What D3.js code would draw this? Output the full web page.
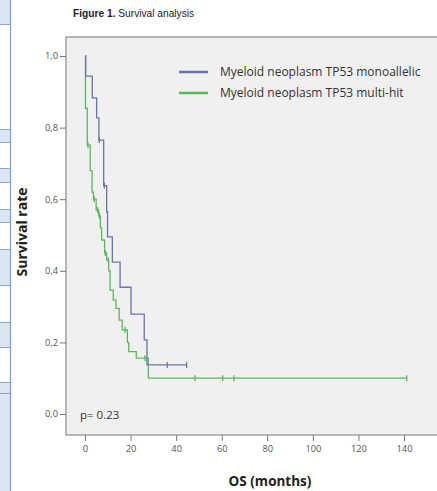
<!DOCTYPE html>
<html><head><meta charset="utf-8">
<script src="https://cdn.jsdelivr.net/npm/d3@7"></script>
<style>body{margin:0;background:#fff}svg{display:block}</style>
</head><body>
<script>
// ---- data ----
const seriesNames = ["Myeloid neoplasm TP53 monoallelic", "Myeloid neoplasm TP53 multi-hit"];
const seriesColors = ["#6a74ac", "#5cb85a"];
// step points: [months, survival after step]
const monoSteps = [[0,1.0],[0.3,0.944],[3.2,0.883],[5.1,0.827],[6.1,0.765],[8.2,0.638],[9.5,0.565],[9.9,0.495],[12.0,0.424],[15.4,0.354],[20.2,0.279],[26.0,0.207],[27.2,0.137],[44.6,0.137]];
const monoCensor = [[6.3,0.765],[8.5,0.638],[36.1,0.137],[44.6,0.137]];
const multiSteps = [[0,1.0],[0.2,0.854],[1.0,0.751],[2.3,0.680],[3.1,0.620],[3.7,0.600],[4.9,0.570],[6.0,0.553],[6.7,0.520],[7.3,0.486],[8.6,0.450],[9.5,0.430],[10.4,0.400],[11.0,0.346],[12.4,0.318],[13.6,0.295],[15.0,0.262],[16.3,0.235],[18.6,0.200],[19.2,0.174],[22.5,0.156],[27.8,0.100],[141.2,0.100]];
const multiCensor = [[1.3,0.751],[4.0,0.600],[5.5,0.570],[6.4,0.553],[8.9,0.450],[10.2,0.430],[17.6,0.235],[26.3,0.156],[48.3,0.100],[60.4,0.100],[65.4,0.100],[141.2,0.100]];
const xTicks = [0,20,40,60,80,100,120,140];
const yTicks = [0,0.2,0.4,0.6,0.8,1.0];
const pText = "p= 0.23";

const W = 437, H = 491;
const svg = d3.select("body").append("svg").attr("width", W).attr("height", H);

// left strip (cropped table fragment)
const stripBands = [[0,24],[129,142],[168,182],[209,222],[249,285],[322,347],[382,491]];
svg.append("rect").attr("x",0).attr("y",0).attr("width",10).attr("height",H).attr("fill","#ffffff");
stripBands.forEach(b => svg.append("rect").attr("x",0).attr("y",b[0]).attr("width",10).attr("height",b[1]-b[0]).attr("fill","#dbe5f3"));
[24,129,142,168,182,209,222,249,285,322,347,382,393].forEach(y =>
  svg.append("line").attr("x1",0).attr("x2",10).attr("y1",y+0.5).attr("y2",y+0.5).attr("stroke","#8aa3cf").attr("stroke-width",1));
svg.append("line").attr("x1",10.5).attr("x2",10.5).attr("y1",0).attr("y2",H).attr("stroke","#7d9bd0").attr("stroke-width",1.2);

// title
const title = svg.append("text").attr("x",73).attr("y",17).attr("font-family","Liberation Sans, Arial, sans-serif").attr("font-size",10.2).attr("fill","#222");
title.append("tspan").attr("font-weight","bold").text("Figure 1.");
title.append("tspan").text(" Survival analysis");

// scales
const x = d3.scaleLinear().domain([0,140]).range([85,404]);
const y = d3.scaleLinear().domain([0,1]).range([414,56]);

// plot area
const plotL = 66, plotT = 37, plotB = 435, plotR = 440;
svg.append("rect").attr("x",plotL).attr("y",plotT).attr("width",plotR-plotL).attr("height",plotB-plotT)
  .attr("fill","#f0f0f0").attr("stroke","#8a8a8a").attr("stroke-width",1.2);

// axes
const fontAxis = "Open Sans, DejaVu Sans, sans-serif";
const yAxis = svg.append("g").attr("transform",`translate(${plotL},0)`)
  .call(d3.axisLeft(y).tickValues(yTicks).tickSize(6).tickPadding(2).tickFormat(d => d3.format(".1f")(d).replace(".", ",")));
yAxis.select(".domain").remove();
yAxis.selectAll("line").attr("stroke","#777");
yAxis.selectAll("text").attr("font-family",fontAxis).attr("font-size",9.3).attr("fill","#555");

const xAxis = svg.append("g").attr("transform",`translate(0,${plotB})`)
  .call(d3.axisBottom(x).tickValues(xTicks).tickSize(6).tickPadding(4));
xAxis.select(".domain").remove();
xAxis.selectAll("line").attr("stroke","#777");
xAxis.selectAll("text").attr("font-family",fontAxis).attr("font-size",9.3).attr("fill","#555");

// curves
const line = d3.line().x(d => x(d[0])).y(d => y(d[1])).curve(d3.curveStepAfter);
function drawSeries(steps, censor, color){
  svg.append("path").datum(steps).attr("d",line).attr("fill","none").attr("stroke",color).attr("stroke-width",1.3);
  svg.append("g").selectAll("line").data(censor).join("line")
    .attr("x1",d=>x(d[0])).attr("x2",d=>x(d[0])).attr("y1",d=>y(d[1])-3).attr("y2",d=>y(d[1])+3)
    .attr("stroke",color).attr("stroke-width",1.3);
}
drawSeries(multiSteps, multiCensor, seriesColors[1]);
drawSeries(monoSteps, monoCensor, seriesColors[0]);

// legend
const leg = svg.append("g");
seriesNames.forEach((n,i) => {
  const ly = 72 + i*21;
  leg.append("line").attr("x1",179).attr("x2",208).attr("y1",ly).attr("y2",ly).attr("stroke",seriesColors[i]).attr("stroke-width",2.5);
  leg.append("text").attr("x",220).attr("y",ly+4).attr("font-family",fontAxis).attr("font-size",12).attr("fill","#333").text(n);
});

// p value
svg.append("text").attr("x",80).attr("y",419).attr("font-family",fontAxis).attr("font-size",11.5).attr("fill","#333").text(pText);

// axis titles
svg.append("text").attr("x",270).attr("y",486).attr("text-anchor","middle").attr("font-family",fontAxis).attr("font-weight","bold").attr("font-size",13.5).attr("fill","#222").text("OS (months)");
svg.append("text").attr("transform","translate(27,232) rotate(-90)").attr("text-anchor","middle").attr("font-family",fontAxis).attr("font-weight","bold").attr("font-size",14).attr("fill","#222").text("Survival rate");
</script>
</body></html>
